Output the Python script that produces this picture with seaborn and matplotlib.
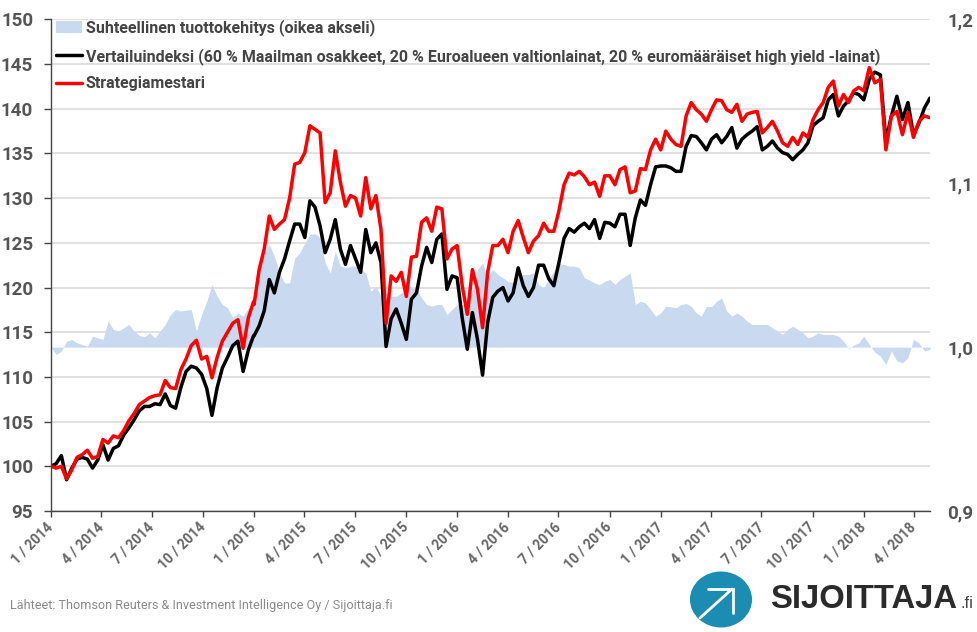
import seaborn as sns
import matplotlib
matplotlib.use("Agg")
import matplotlib.pyplot as plt
from matplotlib.patches import Ellipse, Patch
from matplotlib.lines import Line2D
from matplotlib.transforms import ScaledTranslation
import pandas as pd

# datat luettu kuvasta, vuosi kerrallaan
black_2014 = [100.0, 100.3, 101.2, 98.5, 99.8, 100.8, 101.0, 100.8, 99.8, 100.7, 102.4, 100.7, 102.0, 102.3, 103.5, 104.3,
              105.2, 106.2, 106.7, 106.7, 107.0, 106.9, 108.1, 106.8, 106.5, 108.8, 110.6, 111.2, 111.0, 110.3, 108.7, 105.7,
              108.8, 111.0, 112.2, 113.5, 114.0, 110.6, 113.0, 114.6]
red_2014 = [100.0, 99.8, 100.0, 98.6, 99.6, 101.0, 101.3, 101.8, 100.9, 101.1, 103.0, 102.6, 103.4, 103.2, 104.0, 105.1,
            105.9, 106.9, 107.3, 107.7, 107.9, 108.0, 109.6, 108.8, 108.7, 110.8, 112.0, 113.5, 114.1, 112.0, 112.3, 109.9,
            112.2, 114.0, 115.0, 116.0, 116.4, 113.2, 116.6, 118.4]
rel_2014 = [1.0, 0.9955, 0.9976, 1.0037, 1.0047, 1.0026, 1.0016, 1.0006, 1.0067, 1.0057, 1.0047, 1.0159, 1.0108, 1.0098,
            1.0118, 1.0138, 1.0098, 1.0071, 1.0063, 1.0087, 1.0057, 1.0098, 1.0138, 1.0199, 1.023, 1.022, 1.0226, 1.023,
            1.0098, 1.0199, 1.028, 1.0382, 1.0311, 1.026, 1.024, 1.0179, 1.0209, 1.0189, 1.024, 1.024]

black_2015 = [114.6, 115.7, 117.4, 120.9, 119.4, 121.7, 123.2, 125.2, 127.1, 127.1, 125.6, 129.7, 129.0, 126.9, 123.9, 125.4,
              127.6, 124.3, 122.6, 124.7, 123.2, 121.7, 126.5, 123.9, 125.0, 122.8, 113.4, 116.5, 117.6, 116.0, 114.2, 118.7,
              119.4, 122.4, 124.5, 122.8, 125.4, 126.0, 119.8, 121.3]
red_2015 = [118.1, 122.0, 124.3, 128.0, 126.5, 127.1, 127.6, 130.0, 133.8, 134.0, 135.1, 138.1, 137.7, 137.3, 129.5, 130.6,
            135.3, 131.8, 129.1, 130.3, 130.0, 128.0, 132.3, 128.8, 130.3, 126.5, 116.0, 121.3, 120.7, 121.7, 119.0, 123.4,
            123.5, 127.3, 127.8, 126.3, 129.0, 128.8, 123.2, 124.3]
rel_2015 = [1.029, 1.0535, 1.0575, 1.0626, 1.0555, 1.0453, 1.0392, 1.0392, 1.0545, 1.0575, 1.0636, 1.0687, 1.0693, 1.0667,
            1.0514, 1.0453, 1.0585, 1.0494, 1.0484, 1.0494, 1.0494, 1.0474, 1.0453, 1.0341, 1.0372, 1.0311, 1.0331, 1.0311,
            1.0311, 1.0331, 1.0352, 1.0362, 1.0362, 1.0301, 1.026, 1.025, 1.026, 1.026, 1.0199, 1.023]

black_2016 = [121.1, 116.6, 113.1, 117.2, 114.2, 110.2, 116.1, 118.9, 119.6, 120.0, 118.5, 119.4, 122.2, 120.2, 119.0, 120.0,
              122.5, 122.5, 121.0, 120.2, 122.8, 125.5, 126.6, 126.2, 126.8, 127.2, 126.6, 127.6, 125.5, 127.3, 127.2, 126.8,
              128.2, 128.2, 124.7, 127.8, 129.8, 129.2, 131.5, 133.5]
red_2016 = [124.7, 120.2, 117.0, 122.0, 119.8, 115.5, 121.7, 124.7, 124.7, 125.4, 123.9, 126.3, 127.5, 125.6, 123.9, 125.2,
            125.8, 127.2, 126.3, 126.3, 128.6, 131.5, 132.8, 132.6, 133.0, 132.4, 131.5, 131.8, 130.2, 132.5, 132.5, 131.5,
            133.2, 133.5, 130.6, 130.8, 133.3, 133.2, 135.4, 136.6]
rel_2016 = [1.026, 1.026, 1.027, 1.0341, 1.0474, 1.0514, 1.0423, 1.0474, 1.0443, 1.0423, 1.0402, 1.0392, 1.0433, 1.0443,
            1.0443, 1.0453, 1.0382, 1.0362, 1.0413, 1.0463, 1.051, 1.0504, 1.0494, 1.0494, 1.0484, 1.0423, 1.0409, 1.0392,
            1.0382, 1.0402, 1.0413, 1.0382, 1.0413, 1.0433, 1.0453, 1.026, 1.028, 1.027, 1.023, 1.0189]

black_2017 = [133.6, 133.6, 133.4, 133.0, 133.0, 135.8, 137.0, 136.9, 136.2, 135.4, 136.6, 137.1, 136.2, 136.9, 137.9, 135.6,
              136.6, 137.1, 137.5, 138.0, 135.4, 135.8, 136.4, 135.6, 135.1, 134.9, 134.3, 134.9, 135.4, 136.2, 138.1, 138.6,
              139.0, 141.0, 141.6, 139.2, 140.3, 140.9, 141.8, 141.6]
red_2017 = [135.4, 137.5, 136.6, 136.0, 135.8, 139.2, 140.7, 139.9, 139.4, 138.6, 139.9, 141.0, 140.9, 139.9, 139.6, 140.5,
            138.6, 139.4, 139.6, 139.7, 137.3, 137.9, 138.6, 137.5, 136.2, 135.8, 136.8, 136.0, 137.3, 136.8, 138.8, 139.9,
            140.7, 142.4, 143.1, 140.3, 141.6, 140.7, 142.0, 142.4]
rel_2017 = [1.0209, 1.025, 1.0246, 1.024, 1.026, 1.0266, 1.025, 1.0209, 1.0189, 1.025, 1.0246, 1.028, 1.03, 1.022, 1.0189,
            1.0209, 1.0189, 1.0159, 1.0138, 1.0138, 1.0138, 1.0138, 1.0118, 1.0098, 1.0077, 1.0108, 1.0128, 1.0108, 1.0087,
            1.0057, 1.0067, 1.0087, 1.0077, 1.0077, 1.0077, 1.0067, 1.0037, 0.9992, 1.0012, 1.0026]

black_2018 = [141.0, 143.3, 144.1, 143.8, 136.4, 139.2, 141.4, 138.8, 140.7, 137.1, 138.4, 140.1, 141.2]
red_2018 = [142.0, 144.6, 142.9, 143.3, 135.4, 139.2, 139.7, 137.1, 139.6, 136.8, 138.6, 139.2, 139.0]
rel_2018 = [1.0067, 1.0016, 0.9969, 0.9945, 0.9894, 0.9976, 0.9915, 0.9904, 0.9935, 1.0047, 1.0026, 0.9976, 0.9986]

label_area = "Suhteellinen tuottokehitys (oikea akseli)"
label_black = "Vertailuindeksi (60 % Maailman osakkeet, 20 % Euroalueen valtionlainat, 20 % euromääräiset high yield -lainat)"
label_red = "Strategiamestari"
source_text = "Lähteet: Thomson Reuters & Investment Intelligence Oy / Sijoittaja.fi"

left_ticks = list(range(95, 151, 5))
right_ticks = [0.9, 1.0, 1.1, 1.2]
right_labels = ["0,9", "1,0", "1,1", "1,2"]
tick_dates = pd.date_range("2014-01-01", "2018-04-01", freq="3MS")

dates = (list(pd.date_range("2014-01-01", "2014-12-31", periods=len(black_2014)))
         + list(pd.date_range("2015-01-01", "2016-01-01", periods=len(black_2015) + 1)[:-1])
         + list(pd.date_range("2016-01-01", "2017-01-01", periods=len(black_2016) + 1)[:-1])
         + list(pd.date_range("2017-01-01", "2018-01-01", periods=len(black_2017) + 1)[:-1])
         + list(pd.date_range("2018-01-01", "2018-04-30", periods=len(black_2018))))

df = pd.DataFrame({
    "date": dates,
    "black": black_2014 + black_2015 + black_2016 + black_2017 + black_2018,
    "red": red_2014 + red_2015 + red_2016 + red_2017 + red_2018,
    "rel": rel_2014 + rel_2015 + rel_2016 + rel_2017 + rel_2018,
})

sns.set_theme(style="white")
plt.rcParams["font.family"] = ["Roboto", "DejaVu Sans"]

text_grey = "#555555"
axis_grey = "#444444"

fig = plt.figure(figsize=(9.78, 6.32), dpi=100)
ax = fig.add_axes([51 / 978, (632 - 511) / 632, (930 - 51) / 978, (511 - 19.4) / 632])
ax_grid = ax.twinx()
ax_right = ax.twinx()

# ruudukko alimmaksi, sitten alue ja viivat paalle
ax_grid.set_zorder(0)
ax_right.set_zorder(1)
ax.set_zorder(2)
ax.patch.set_visible(False)
ax_right.patch.set_visible(False)

xlim = (pd.Timestamp("2014-01-01"), pd.Timestamp("2018-04-30"))

ax_grid.set_ylim(95, 150)
ax_grid.set_yticks(left_ticks)
ax_grid.yaxis.grid(True, color="#d9d9d9", lw=1.1)
ax_grid.xaxis.grid(False)
ax_grid.tick_params(right=False, labelright=False)
for s in ax_grid.spines.values():
    s.set_visible(False)

ax_right.fill_between(df["date"], df["rel"], 1.0, color="#c9d9f0", lw=0)
ax_right.set_ylim(0.9, 1.2)
ax_right.set_yticks(right_ticks)
ax_right.set_yticklabels(right_labels, fontsize=13.5, fontweight="bold", color=text_grey)
ax_right.tick_params(axis="y", right=False, length=0, pad=12.5)
for s in ax_right.spines.values():
    s.set_visible(False)

sns.lineplot(data=df, x="date", y="black", ax=ax, color="black", lw=2.5, errorbar=None, legend=False)
sns.lineplot(data=df, x="date", y="red", ax=ax, color="#ff0000", lw=2.5, errorbar=None, legend=False)

ax.set_xlim(*xlim)
ax.set_ylim(95, 150)
ax.set_yticks(left_ticks)
ax.set_yticklabels([str(v) for v in left_ticks], fontsize=13.5, fontweight="bold", color=text_grey)
ax.set_xticks(tick_dates)
ax.set_xticklabels([f"{d.month} / {d.year}" for d in tick_dates], rotation=45, ha="right", va="center",
                   rotation_mode="anchor", fontsize=10, fontweight="bold", color="#666666")
shift = ScaledTranslation(-3 / 100, 0, fig.dpi_scale_trans)
for lab in ax.get_xticklabels():
    lab.set_transform(lab.get_transform() + shift)
ax.set_xlabel("")
ax.set_ylabel("")
ax.tick_params(axis="y", left=True, length=4.8, width=1, color=axis_grey, pad=8)
ax.tick_params(axis="x", bottom=True, length=4, width=1, color=axis_grey, pad=6)
ax.grid(False)
sns.despine(ax=ax, top=True, right=True)
ax.spines["left"].set_color(axis_grey)
ax.spines["bottom"].set_color(axis_grey)
ax.spines["left"].set_linewidth(1)
ax.spines["bottom"].set_linewidth(1)

handles = [Patch(color="#c9d9f0", lw=0), Line2D([], [], color="black", lw=2.5), Line2D([], [], color="#ff0000", lw=2.5)]
leg = ax.legend(handles, [label_area, label_black, label_red], loc="upper left", bbox_to_anchor=(0.0057, 1.0),
                frameon=False, handlelength=1.65, handletextpad=0.2, labelspacing=0.72, borderpad=0, borderaxespad=0,
                prop={"size": 11.5, "weight": "bold"}, labelcolor="#444444")

fig.text(10 / 978, 1 - 606 / 632, source_text, fontsize=9.1, color="#8a8a8a", va="center", ha="left")

# logo: pallo ja nuoli
logo = fig.add_axes([0, 0, 1, 1], zorder=3)
logo.set_xlim(0, 978)
logo.set_ylim(632, 0)
logo.axis("off")
logo.add_patch(Ellipse((721, 599.5), 62, 56, color="#1b8db3", lw=0))
logo.plot([700, 732], [618, 589], color="white", lw=2)
logo.plot([708, 733, 733], [589, 589, 613], color="white", lw=2, solid_joinstyle="miter")
logo.text(770, 599, "SIJOITTAJA", fontsize=23.6, fontweight="bold", color="#2b2b2b", va="center", ha="left", family="Liberation Sans")
logo.text(960, 603, ".fi", fontsize=12, color="#444444", va="center", ha="left", family="Liberation Sans")

fig.savefig("out.png", dpi=100)
